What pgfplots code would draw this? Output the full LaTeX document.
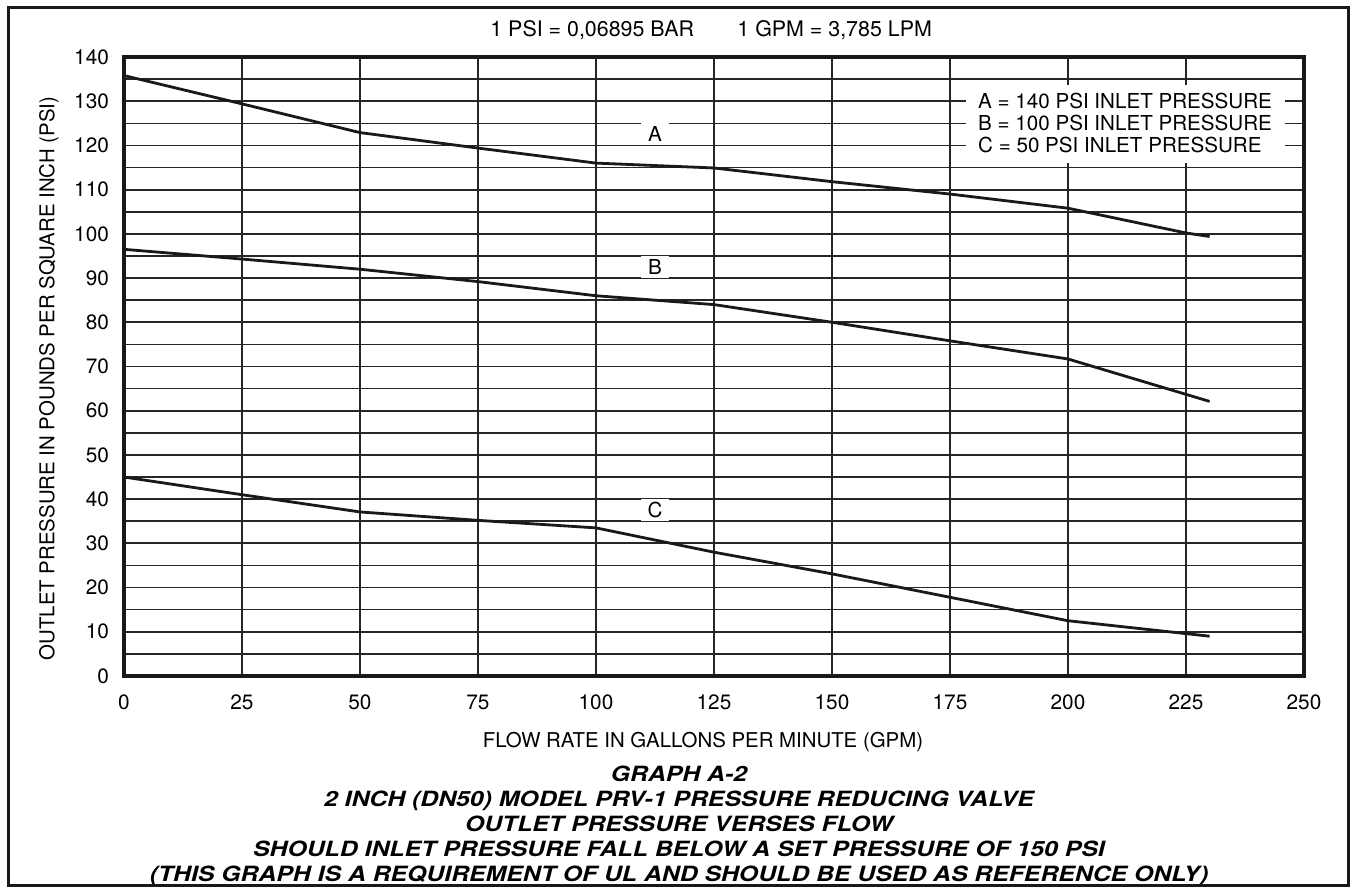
\documentclass[border=0pt]{standalone}
\usepackage{pgfplots}
\pgfplotsset{compat=1.18}
\usepackage{graphicx}
\usepackage{fontspec}
\setmainfont{TeX Gyre Heros}

\begin{document}
\begin{tikzpicture}[font=\fontsize{10.3}{12}\selectfont]
% page = 1351 x 888 px at 0.5pt per px, axis box lower left at origin
\path[use as bounding box] (-62pt,-106pt) rectangle (613.5pt,338pt);
\begin{axis}[
    at={(0,0)}, anchor=south west,
    width=590pt, height=309.5pt, scale only axis,
    xmin=0, xmax=250, ymin=0, ymax=140,
    xtick={0,25,...,250}, ytick={0,10,...,140},
    minor ytick={5,15,...,135},
    grid=both,
    major grid style={line width=0.9pt, black!85},
    minor grid style={line width=0.8pt, black!85},
    axis line style={line width=1.6pt, black!90},
    major tick length=0pt, minor tick length=0pt,
    /pgf/number format/assume math mode=true,
    tick label style={font=\fontsize{10.4}{12}\selectfont},
    xticklabel style={yshift=-6pt},
    yticklabel style={xshift=-4pt},
    clip=false,
]
\addplot[line width=1.4pt, black!90] coordinates {
    (0,135.8) (25,129.4) (50,122.9) (75,119.4) (100,116.0) (125,114.9)
    (150,111.8) (175,109.0) (200,105.8) (225,100.2) (230,99.4)
};
\addplot[line width=1.4pt, black!90] coordinates {
    (0,96.5) (25,94.3) (50,92.0) (75,89.2) (100,86.0) (125,84.0)
    (150,80.0) (175,75.8) (200,71.7) (230,62.1)
};
\addplot[line width=1.4pt, black!90] coordinates {
    (0,45.0) (25,41.0) (50,37.1) (75,35.2) (100,33.5) (125,28.0)
    (150,23.1) (175,17.8) (200,12.5) (230,9.0)
};
% curve labels
\node[fill=white, inner sep=0pt, minimum width=14pt, minimum height=11pt] at (axis cs:112.5,122.5) {A};
\node[fill=white, inner sep=0pt, minimum width=14pt, minimum height=11pt] at (axis cs:112.5,92.5) {B};
\node[fill=white, inner sep=0pt, minimum width=14pt, minimum height=11pt] at (axis cs:112.5,37.5) {C};
% key box
\fill[white] (axis cs:178.3,116.1) rectangle (axis cs:245.9,133.7);
\node[anchor=west, inner sep=0pt] at (axis cs:180.9,130) {A = 140 PSI INLET PRESSURE};
\node[anchor=west, inner sep=0pt] at (axis cs:180.9,125) {B = 100 PSI INLET PRESSURE};
\node[anchor=west, inner sep=0pt] at (axis cs:180.9,120) {C = 50 PSI INLET PRESSURE};
\end{axis}
% axis titles
\node[font=\fontsize{10.2}{12}\selectfont] at (289.5pt,-33pt) {FLOW RATE IN GALLONS PER MINUTE (GPM)};
\node[rotate=90, font=\fontsize{10.2}{12}\selectfont] at (-37.5pt,148.75pt) {OUTLET PRESSURE IN POUNDS PER SQUARE INCH (PSI)};
% conversions line
\node[anchor=west, inner sep=0pt, font=\fontsize{10.7}{12}\selectfont] at (183pt,323pt) {1 PSI = 0,06895 BAR};
\node[anchor=west, inner sep=0pt, font=\fontsize{10.7}{12}\selectfont] at (306.5pt,323pt) {1 GPM = 3,785 LPM};
% caption
\begin{scope}[font=\fontsize{10.5}{12}\selectfont\bfseries\itshape]
\node[anchor=base] at (277.5pt,-53pt) {\scalebox{1.18}[1]{GRAPH A-2}};
\node[anchor=base] at (277.5pt,-65.5pt) {\scalebox{1.18}[1]{2 INCH (DN50) MODEL PRV-1 PRESSURE REDUCING VALVE}};
\node[anchor=base] at (277.5pt,-78pt) {\scalebox{1.18}[1]{OUTLET PRESSURE VERSES FLOW}};
\node[anchor=base] at (277.5pt,-90.5pt) {\scalebox{1.18}[1]{SHOULD INLET PRESSURE FALL BELOW A SET PRESSURE OF 150 PSI}};
\node[anchor=base] at (277.5pt,-103pt) {\scalebox{1.18}[1]{(THIS GRAPH IS A REQUIREMENT OF UL AND SHOULD BE USED AS REFERENCE ONLY)}};
\end{scope}
% outer frame
\draw[line width=1.5pt, black!90] (-57.5pt,-105pt) rectangle (612pt,334pt);
\end{tikzpicture}
\end{document}
